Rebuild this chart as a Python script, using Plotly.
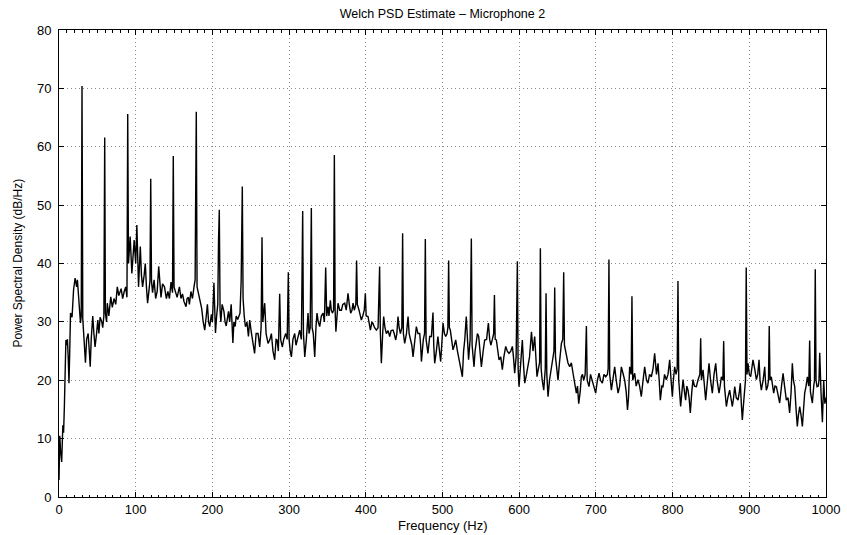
import plotly.graph_objects as go

# ---- Data (frequency in Hz, PSD in dB/Hz) ----
freq_a = [0, 1, 2, 3.5, 5, 6, 7, 8, 9, 10,
          11, 12, 13, 14, 15, 17, 19, 21, 23, 24,
          26, 28, 29, 30, 31, 32, 33.6, 34.5, 36, 38,
          39.5, 40.7, 42, 44, 45.5, 47, 49, 50.6, 52, 53.6,
          55.8, 57, 58.5, 59.6, 60.5, 62, 63, 65, 67.5, 69.5,
          71.8, 74, 76, 78, 81, 83, 85, 87, 88.6, 89.6,
          90.6, 92.8, 95, 96.5, 98, 100, 101.5, 103.7, 106, 107.5,
          109, 111, 112.5, 114, 115.5, 117, 118.6, 119.6, 120.6, 122,
          124, 126, 128, 130, 131.5, 133, 135, 137.5, 140, 142,
          144, 146, 148, 149, 150, 152, 154, 157, 159, 161,
          163, 165.6, 167, 168.7, 170, 172, 174, 176, 177.5, 178,
          179, 180, 181.5, 183, 186, 188, 190, 192, 193.5, 195,
          196.5, 198.7, 200, 202, 204, 205.5, 207, 208, 209, 210,
          211, 212.7, 215, 216.5, 218, 221, 222.5, 224.5, 226.7, 228,
          229.7, 231, 233, 236, 237.5, 239, 240, 241.5, 243, 244.3,
          245, 247, 248.6]
psd_a = [2.9, 10.5, 8, 6, 12.3, 11, 15.5, 22, 26.9, 26,
         27, 24, 19.5, 25, 31.5, 30.8, 35.5, 37.5, 36, 37.2,
         33.7, 29.8, 31, 70.4, 30.5, 28, 26.4, 23, 27, 28,
         25, 22.3, 27, 31, 28, 25.7, 28, 30.3, 28, 30.8,
         30, 29, 31, 61.6, 31.5, 30, 33.2, 31, 34.3, 32.5,
         34, 33, 36, 34.5, 35.7, 34, 35.2, 36, 34.2, 65.6,
         40, 44.6, 38.3, 41, 44, 40, 46.6, 36, 42.9, 38,
         36, 38, 40, 36, 33.2, 35, 37, 54.5, 37, 35,
         37.2, 34, 35.2, 39.5, 36, 34.2, 36.5, 36, 34, 35.2,
         34, 36.8, 35, 58.4, 36, 35, 34.2, 36, 34, 34.8,
         33.5, 32.6, 34, 34.2, 33, 35.2, 34, 36, 37.2, 48,
         66, 36, 35, 33.7, 32.3, 30, 28.6, 31, 33, 30,
         29.2, 31.3, 30, 36.7, 28.1, 31, 33, 44, 49.2, 32,
         30, 33, 31.8, 30, 29.3, 31.8, 30, 33, 26.4, 30,
         29.2, 31, 30.4, 31.5, 37, 53.2, 34, 31, 29.2, 29.5,
         30, 27.5, 30.3]

freq_b = [251, 253, 255, 257, 259.5, 261.7, 263.5, 264.7, 265.7, 268.2,
          270, 272.5, 275, 276.9, 279, 281.2, 283, 284.3, 286, 287.7,
          289, 291.2, 293, 295.6, 297.5, 299, 300, 301.5, 303, 305,
          307.3, 309, 310.4, 312, 313.8, 316, 317.7, 318.7, 320.4, 322.5,
          324.7, 326, 327.5, 329, 330, 331.5, 333.4, 335, 336.4, 338,
          339.9, 342, 344.3, 346, 347.7, 349, 350.8, 352, 353.8, 355,
          356.4, 358, 359, 360, 361, 362.5, 363.8, 366, 368.2, 370,
          372.5, 374.5, 376.8, 378.5, 380.3, 382, 383.4, 385, 387, 388,
          389, 391.2, 393, 394.2, 396, 398, 399.4, 400.5, 402.9, 404.5,
          406, 408, 409.4, 411.5, 413.8, 416, 418, 419, 420.3, 422,
          423.3, 425, 426.8, 429, 431.2, 433, 435.5, 437, 439, 440.5,
          442, 443.5, 445.1, 447, 448, 449, 450.7, 453, 455.1, 456.5,
          458.1, 460, 461.6, 464, 465.9, 468, 470.3, 471.5, 472.5, 475,
          476.6, 477.6, 478.6, 481, 483.3, 485.5, 486.5, 487.6, 488.6, 489.8,
          492, 494, 495.5, 497.6, 499]
psd_b = [28, 26, 24.6, 28, 28, 25.7, 29, 44.5, 30, 33.2,
         28, 26.3, 27, 28, 25, 23.5, 27, 26.9, 25, 34.8,
         27, 25.7, 27, 28, 27, 38.5, 27, 25, 24, 27,
         28, 26, 26.9, 27.5, 28.6, 27, 49, 28, 24, 27,
         31.5, 28, 29, 49.5, 29, 28, 24, 29, 31.5, 30,
         29.2, 31, 31.5, 30, 39.3, 31, 32.6, 31, 33.7, 32,
         31.5, 32, 58.6, 32, 28.3, 31, 33.2, 32, 32, 33,
         33.2, 32, 34.9, 33, 31.5, 32, 33.2, 32, 33, 40.5,
         33, 32, 31, 30.3, 31, 32, 34.9, 31, 30.9, 29.5,
         28.6, 30, 29.7, 29, 28.6, 29, 39.5, 28, 22.9, 28,
         30.9, 29, 28, 28.5, 27.5, 28.5, 28.6, 28, 26.9, 28,
         30.9, 29, 28, 29, 45.2, 28, 26.3, 28, 30.9, 28,
         26.9, 26, 24, 27, 29.2, 28, 28, 26, 23.2, 27,
         28, 44.2, 27, 24.6, 27.5, 27.5, 29, 31.6, 26, 22.9,
         25, 27.5, 25.7, 23.2, 26]

freq_c = [500.7, 502.5, 504.2, 506, 507, 508, 509, 510.2, 512, 513.7,
          515.5, 517.2, 519.5, 521.5, 524, 525.9, 527.5, 529, 531, 532.5,
          534, 536, 537.6, 538.6, 539.8, 541.1, 542.5, 544.1, 545.5, 547.2,
          549, 550.7, 553, 555, 557.5, 559.8, 561.5, 563, 565, 566.7,
          567.7, 568.7, 570.2, 572, 573.7, 576, 578, 580, 582.4, 584.5,
          586.7, 589, 591.1, 592.5, 594.1, 596, 597.6, 598.6, 599.8, 602,
          604.1, 605.5, 607.2, 609.5, 611.5, 613.5, 616, 618, 620.2, 621.5,
          623.2, 625, 626.6, 627.6, 628.6, 630, 632, 634, 635, 636,
          637.6, 639.5, 642, 644, 645.3, 646.3, 647.3, 649, 650.6, 652.5,
          655, 656.8, 658, 659, 661.5, 663.5, 665.8, 668, 670.2, 672,
          674.5, 676, 677.6, 679.5, 681, 682.5, 684.1, 686, 687.6, 688.6,
          691, 693, 695.4, 697.5, 699.7, 702, 704.1, 706, 708.4, 710.5,
          712.8, 715, 716, 717, 718, 720.2, 722, 724.5, 726.5, 728.9,
          731, 733.2, 735.3, 737.5, 739.5, 741.2, 742.5, 744, 746, 747,
          748]
psd_c = [29.8, 28, 27.5, 28, 29, 40.5, 29, 28.6, 27, 25.2,
         26, 26.9, 25, 23.5, 22, 20.6, 25, 26.9, 30.9, 28,
         23.5, 27, 44.3, 26, 24, 22.3, 25, 26.9, 28, 27.5,
         25, 22.3, 25, 26.9, 27, 29.8, 27, 26, 27, 28,
         34.6, 27, 26.9, 25, 23.5, 24, 21.8, 24, 25.8, 25,
         24.6, 25, 25.8, 24, 21.2, 24, 40.4, 22, 18.9, 23,
         26.9, 23, 19.5, 21, 22.9, 24, 28.3, 25, 27.5, 24,
         20.6, 22, 23, 42.6, 22, 20, 18.3, 22, 34.9, 21,
         17.2, 20, 22.3, 24, 25, 35.9, 24, 22, 20, 23,
         26.3, 27, 38.5, 26, 24.6, 23, 22.3, 23, 21.2, 20,
         17.8, 19, 16, 18, 20.6, 21, 20, 21, 29.3, 20,
         18.9, 21, 20, 19, 17.8, 20, 21.2, 20, 19.5, 21,
         20.6, 21, 22, 40.7, 21, 18.3, 20, 22.3, 20, 17.8,
         19, 22.3, 21.2, 20, 18, 14.9, 17, 22.3, 21, 34.4,
         20]

freq_d = [750.6, 752.5, 754.9, 757, 759.2, 761.5, 763.6, 766, 767.9, 770,
          772.3, 774.5, 776.6, 779, 781, 782.5, 784, 786, 787.5, 789.5,
          791.8, 794, 796.2, 798, 799.7, 801, 802.7, 804.5, 806, 807,
          808, 810.5, 812, 813.6, 815.5, 817, 818.5, 820.1, 821.5, 823.1,
          825, 826.6, 828.5, 831, 833, 835.5, 836.6, 837.6, 839.7, 841.5,
          843.1, 845.5, 847.5, 849.5, 851.8, 854, 856.2, 858, 860.5, 862,
          863.6, 865.5, 866.6, 867.6, 870.1, 872, 874.4, 876, 877.9, 879.5,
          881, 883, 885.3, 887, 888.3, 889.6, 890.9, 892.5, 894, 895,
          896, 897, 898.3, 900, 901.8, 903.5, 904.8, 907, 909.2, 911,
          912.7, 914, 915.7, 918, 920.1, 921, 922.2, 924, 925, 926,
          927, 928.7, 930.5, 931.8, 933.5, 935.3, 937.5, 939.6, 942, 944,
          946, 948.3, 950.5, 952.6, 954.5, 956.1, 957.5, 959.2, 961, 962.6,
          964, 965.7, 967.5, 969.2, 970.7, 972.2, 974, 975.7, 977.5, 978.7,
          979.7, 982.2, 984, 985, 986, 987, 988.3, 990, 990.9, 991.8,
          993.5, 995.3, 997, 998.5, 1000]
psd_d = [21.2, 19, 20.1, 19, 17.2, 20, 22.3, 20, 19.5, 21,
         20.6, 22, 24.6, 21, 22.9, 20, 16.6, 19, 18.9, 21,
         20.1, 21, 23.5, 20, 17.2, 20, 22.3, 21, 22, 37,
         20, 15.5, 18, 20.1, 18, 16.6, 19, 18.3, 17, 14.4,
         18, 20.1, 19, 18.9, 20, 21, 27.2, 20, 21.8, 19,
         16.6, 20, 22.9, 20, 17.8, 21, 22.9, 20, 17.8, 19,
         20.6, 20, 26.7, 19, 15.5, 17, 18.3, 17, 15.5, 17,
         18.9, 17, 16.6, 18, 19.5, 16, 13.2, 16, 18.3, 20,
         39.3, 21, 22.9, 21, 20.6, 22, 23.5, 22, 20.1, 21,
         23.5, 20, 18.3, 20, 22.3, 20, 18.3, 19, 20, 29.3,
         20, 20.6, 19, 17.8, 19, 18.9, 17.5, 16.1, 19, 21.2,
         19, 16.6, 17, 14.4, 18, 22.9, 20, 18.9, 15, 12.1,
         14, 15.5, 14, 12.1, 15, 17.8, 19, 20.6, 19, 26.8,
         18, 16.1, 19, 20, 39, 20, 18.9, 19, 20.1, 24.7,
         18, 12.8, 20, 16, 17]

for f_, p_ in ((freq_a, psd_a), (freq_b, psd_b), (freq_c, psd_c), (freq_d, psd_d)):
    assert len(f_) == len(p_), (len(f_), len(p_))

freq_hz = freq_a + freq_b + freq_c + freq_d
psd_db = psd_a + psd_b + psd_c + psd_d

x_ticks = list(range(0, 1001, 100))
y_ticks = list(range(0, 81, 10))

title_text = "Welch PSD Estimate \u2013 Microphone 2"
x_label = "Frequency (Hz)"
y_label = "Power Spectral Density (dB/Hz)"

FONT = "Liberation Sans, Arial, Helvetica, sans-serif"
W, H = 847, 535
ML, MR, MT, MB = 59, 21, 30, 38
PW, PH = W - ML - MR, H - MT - MB

fig = go.Figure(
    go.Scatter(x=freq_hz, y=psd_db, mode="lines",
               line=dict(color="black", width=1.4), hoverinfo="skip")
)

axis_common = dict(
    showline=True, linecolor="black", linewidth=1, mirror="ticks",
    ticks="inside", ticklen=5, tickcolor="black", tickwidth=1,
    showgrid=True, gridcolor="#8a8a8a", gridwidth=1, griddash="1px,3px",
    zeroline=False, tickfont=dict(family=FONT, size=13, color="black"),
    automargin=False,
)

fig.update_layout(
    width=W, height=H,
    margin=dict(l=ML, r=MR, t=MT, b=MB, pad=0),
    paper_bgcolor="white", plot_bgcolor="white",
    showlegend=False,
    title=dict(text=title_text,
               font=dict(family=FONT, size=12.5, color="black"),
               x=0.5, xref="paper", xanchor="center",
               y=1 - 14 / H, yref="container", yanchor="middle"),
    xaxis=dict(range=[0, 1000], tickvals=x_ticks,
               minor=dict(dtick=10, ticks="inside", ticklen=2.5,
                          tickcolor="black", showgrid=False),
               **axis_common),
    yaxis=dict(range=[0, 80], tickvals=y_ticks, ticklabelstandoff=4,
               **axis_common),
    annotations=[
        dict(text=x_label, xref="paper", yref="paper",
             x=0.5, y=-(525 - (H - MB)) / PH, xanchor="center", yanchor="middle",
             showarrow=False, font=dict(family=FONT, size=13, color="black")),
        dict(text=y_label, xref="paper", yref="paper", textangle=-90,
             x=(17 - ML) / PW, y=0.5, xanchor="center", yanchor="middle",
             showarrow=False, font=dict(family=FONT, size=12, color="black")),
    ],
)

# remove the browser's default 8px body margin so the figure sits at (0, 0)
fig.write_html("out.html",
               config={"displayModeBar": False, "staticPlot": True},
               post_script="document.body.style.margin='0';"
                           "document.body.style.overflow='hidden';")
